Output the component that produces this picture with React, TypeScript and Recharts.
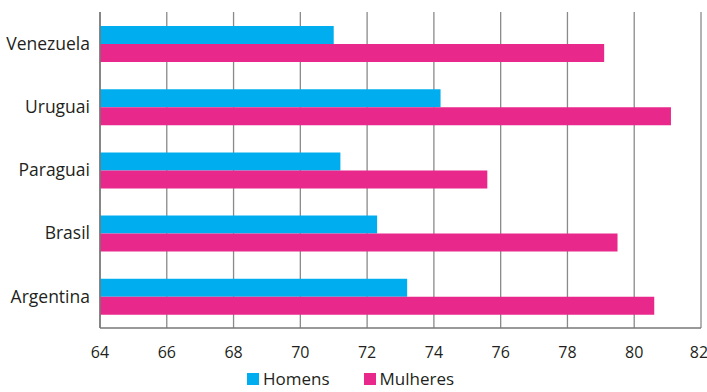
import React from "react";
import {
  BarChart,
  Bar,
  XAxis,
  YAxis,
  CartesianGrid,
  Legend,
} from "recharts";

// Esperança de vida por sexo (anos)
const paises = ["Venezuela", "Uruguai", "Paraguai", "Brasil", "Argentina"];
const homens = [71.0, 74.2, 71.2, 72.3, 73.2];
const mulheres = [79.1, 81.1, 75.6, 79.5, 80.6];
const xTicks = [64, 66, 68, 70, 72, 74, 76, 78, 80, 82];

const CYAN = "#00AEEF";
const MAGENTA = "#E8288B";
const FONT = "'Open Sans', 'Noto Sans', sans-serif";

const data = paises.map((pais, i) => ({
  pais,
  homens: homens[i],
  mulheres: mulheres[i],
}));

const series = [
  { key: "homens", label: "Homens", color: CYAN },
  { key: "mulheres", label: "Mulheres", color: MAGENTA },
];

const LegendaSexo = () => (
  <div
    style={{
      display: "flex",
      justifyContent: "center",
      alignItems: "center",
      gap: 34,
      fontFamily: FONT,
      fontSize: 17,
      color: "#231F20",
      paddingTop: 10,
      lineHeight: "22px",
    }}
  >
    {series.map((s) => (
      <span key={s.key} style={{ display: "flex", alignItems: "center" }}>
        <span
          style={{
            display: "inline-block",
            width: 12,
            height: 12,
            background: s.color,
            marginRight: 4,
          }}
        />
        {s.label}
      </span>
    ))}
  </div>
);

const App = () => {
  return (
    <div style={{ position: "absolute", left: 0, top: 0, width: 707, height: 392, background: "#fff" }}>
      <BarChart
        width={707}
        height={392}
        data={data}
        layout="vertical"
        margin={{ top: 12, right: 6, bottom: 0, left: 0 }}
        barGap={0}
        barSize={18}
      >
        <CartesianGrid horizontal={false} stroke="#8A8A8A" strokeWidth={1.3} />
        <XAxis
          type="number"
          domain={[64, 82]}
          ticks={xTicks}
          allowDataOverflow
          height={30}
          tickLine={false}
          tickSize={0}
          tickMargin={19}
          axisLine={{ stroke: "#777", strokeWidth: 1.5 }}
          tick={{ fontSize: 16, fill: "#231F20", fontFamily: FONT }}
        />
        <YAxis
          type="category"
          dataKey="pais"
          width={100}
          tickLine={false}
          tickSize={0}
          tickMargin={10}
          axisLine={{ stroke: "#777", strokeWidth: 1.5 }}
          tick={{ fontSize: 17.5, fill: "#231F20", fontFamily: FONT }}
        />
        <Legend verticalAlign="bottom" height={34} content={<LegendaSexo />} />
        {series.map((s) => (
          <Bar
            key={s.key}
            dataKey={s.key}
            name={s.label}
            fill={s.color}
            isAnimationActive={false}
          />
        ))}
      </BarChart>
    </div>
  );
};

export default App;
